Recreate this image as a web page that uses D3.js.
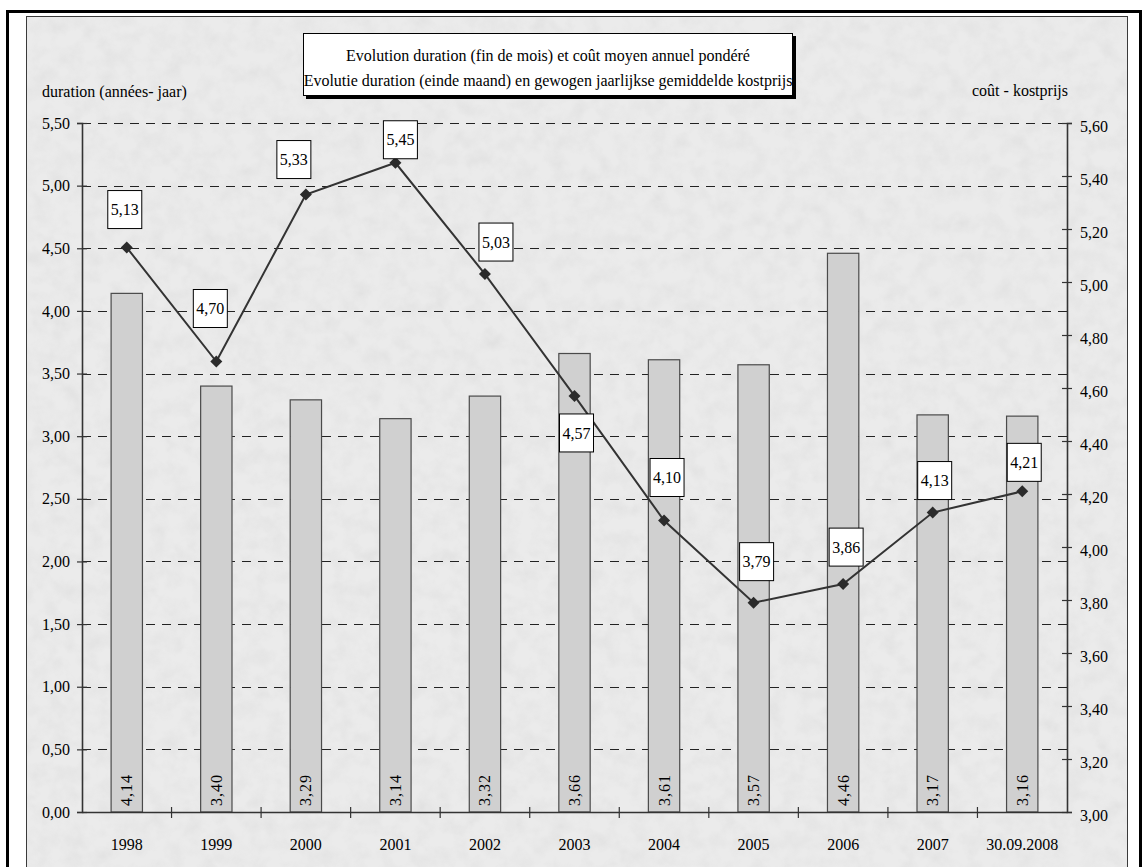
<!DOCTYPE html>
<html>
<head>
<meta charset="utf-8">
<script src="https://cdn.jsdelivr.net/npm/d3@7"></script>
<style>
  html, body { margin: 0; padding: 0; background: #ffffff; }
  svg { display: block; }
  text { font-family: "Liberation Serif", "Times New Roman", serif; fill: #000; }
</style>
</head>
<body>
<svg id="chart" width="1144" height="867"></svg>
<script>
// ---- data ----
const categories = ["1998","1999","2000","2001","2002","2003","2004","2005","2006","2007","30.09.2008"];
const durationValues = [4.14, 3.40, 3.29, 3.14, 3.32, 3.66, 3.61, 3.57, 4.46, 3.17, 3.16];
const costValues = [5.13, 4.70, 5.33, 5.45, 5.03, 4.57, 4.10, 3.79, 3.86, 4.13, 4.21];
const leftTicks = [0, 0.5, 1, 1.5, 2, 2.5, 3, 3.5, 4, 4.5, 5, 5.5];
const rightTicks = [3.0, 3.2, 3.4, 3.6, 3.8, 4.0, 4.2, 4.4, 4.6, 4.8, 5.0, 5.2, 5.4, 5.6];
const titleLines = ["Evolution duration (fin de mois) et coût moyen annuel pondéré",
                    "Evolutie duration (einde maand) en gewogen jaarlijkse gemiddelde kostprijs"];
const leftAxisTitle = "duration (années- jaar)";
const rightAxisTitle = "coût - kostprijs";
// label box placement relative to each point (layout only)
const labelOffsets = [[-2,-38],[-6,-53],[-12,-35],[5,-23],[11,-32],[2,37],[3,-43],[3,-41],[3,-37],[2,-32],[2,-29]];

// ---- layout ----
const svg = d3.select("#chart");
const plot = {left: 82, right: 1067, top: 123, bottom: 812};
const fmt = v => d3.format(".2f")(v).replace(".", ",");

// borders & background
const defs = svg.append("defs");
const filt = defs.append("filter").attr("id","paper").attr("x",0).attr("y",0).attr("width","100%").attr("height","100%");
filt.append("feTurbulence").attr("type","fractalNoise").attr("baseFrequency",0.06).attr("numOctaves",3).attr("seed",4).attr("result","n");
filt.append("feColorMatrix").attr("in","n").attr("type","matrix")
  .attr("values","0 0 0 0 0.5  0 0 0 0 0.5  0 0 0 0 0.5  0.35 0.35 0.35 0 -0.45").attr("result","g");
filt.append("feComposite").attr("in","g").attr("in2","SourceGraphic").attr("operator","in");

svg.append("rect").attr("x",7.5).attr("y",11.5).attr("width",1133).attr("height",900)
  .attr("fill","#ffffff").attr("stroke","#000").attr("stroke-width",3);
svg.append("rect").attr("x",26.5).attr("y",16.5).attr("width",1101).attr("height",900)
  .attr("fill","#ebebeb").attr("stroke","#3a3a3a").attr("stroke-width",1);
svg.append("rect").attr("x",27).attr("y",17).attr("width",1100).attr("height",850)
  .attr("fill","#cfcfcf").attr("filter","url(#paper)").attr("opacity",0.5);

// scales
const x = d3.scaleBand().domain(categories).range([plot.left, plot.right]).paddingInner(0).paddingOuter(0);
const yL = d3.scaleLinear().domain([0, 5.5]).range([plot.bottom, plot.top]);
const yR = d3.scaleLinear().domain([3.0, 5.6]).range([plot.bottom, plot.top]);

// gridlines
svg.append("g").selectAll("line").data(leftTicks.filter(t => t > 0)).join("line")
  .attr("x1", plot.left).attr("x2", plot.right)
  .attr("y1", d => Math.round(yL(d)) + 0.5).attr("y2", d => Math.round(yL(d)) + 0.5)
  .attr("stroke", "#222").attr("stroke-width", 1).attr("stroke-dasharray", "9,7");

// bars
const barW = x.bandwidth() * 0.35;
svg.append("g").selectAll("rect").data(durationValues).join("rect")
  .attr("x", (d,i) => x(categories[i]) + x.bandwidth()/2 - barW/2)
  .attr("y", d => yL(d))
  .attr("width", barW)
  .attr("height", d => yL(0) - yL(d))
  .attr("fill", "#d0d0d0").attr("stroke", "#4a4a4a").attr("stroke-width", 1.2);

// bar labels (rotated)
svg.append("g").selectAll("text").data(durationValues).join("text")
  .attr("transform", (d,i) => `translate(${x(categories[i]) + x.bandwidth()/2 + 5.5},790) rotate(-90)`)
  .attr("text-anchor", "middle")
  .attr("font-size", 16)
  .attr("letter-spacing", 1)
  .text(d => fmt(d));

// left axis
const gL = svg.append("g").attr("transform", `translate(${plot.left},0)`)
  .call(d3.axisLeft(yL).tickValues(leftTicks).tickFormat(fmt).tickSize(5).tickPadding(7));
gL.select(".domain").attr("stroke","#333").attr("stroke-width",1.6);
gL.selectAll(".tick line").attr("x1",5).attr("stroke","#333").attr("stroke-width",1.2);
gL.selectAll(".tick text").attr("font-size",16).attr("font-family","Liberation Serif").attr("fill","#000");

// right axis
const gR = svg.append("g").attr("transform", `translate(${plot.right},0)`)
  .call(d3.axisRight(yR).tickValues(rightTicks).tickFormat(fmt).tickSize(5).tickPadding(8));
gR.select(".domain").attr("stroke","#333").attr("stroke-width",1.6);
gR.selectAll(".tick line").attr("x1",-5).attr("stroke","#333").attr("stroke-width",1.2);
gR.selectAll(".tick text").attr("font-size",16).attr("font-family","Liberation Serif").attr("fill","#000").attr("dy","0.5em");

// bottom axis
const gB = svg.append("g").attr("transform", `translate(0,${plot.bottom})`)
  .call(d3.axisBottom(x).tickSize(0).tickPadding(27));
gB.select(".domain").attr("stroke","#333").attr("stroke-width",1.6);
gB.selectAll(".tick text").attr("font-size",16).attr("font-family","Liberation Serif").attr("fill","#000");
svg.append("g").selectAll("line").data(categories.slice(1)).join("line")
  .attr("x1", d => x(d)).attr("x2", d => x(d))
  .attr("y1", plot.bottom - 5).attr("y2", plot.bottom + 6)
  .attr("stroke", "#333").attr("stroke-width", 1.2);

// line
const line = d3.line().x((d,i) => x(categories[i]) + x.bandwidth()/2).y(d => yR(d));
svg.append("path").datum(costValues).attr("d", line)
  .attr("fill","none").attr("stroke","#333").attr("stroke-width",2);
const sym = d3.symbol().type(d3.symbolSquare).size(72);
svg.append("g").selectAll("path").data(costValues).join("path")
  .attr("d", sym)
  .attr("transform", (d,i) => `translate(${x(categories[i]) + x.bandwidth()/2},${yR(d)}) rotate(45)`)
  .attr("fill","#2b2b2b");

// line labels
const lbl = svg.append("g").selectAll("g").data(costValues).join("g")
  .attr("transform", (d,i) => `translate(${x(categories[i]) + x.bandwidth()/2 + labelOffsets[i][0]},${yR(d) + labelOffsets[i][1]})`);
lbl.append("rect").attr("x",-17).attr("y",-19).attr("width",34).attr("height",38)
  .attr("fill","#fff").attr("stroke","#000").attr("stroke-width",1);
lbl.append("text").attr("text-anchor","middle").attr("dy","0.35em").attr("font-size",16).text(d => fmt(d));

// axis titles
svg.append("text").attr("x",42).attr("y",91).attr("dy","0.35em").attr("font-size",16).text(leftAxisTitle);
svg.append("text").attr("x",1068).attr("y",90).attr("dy","0.35em").attr("text-anchor","end").attr("font-size",16).text(rightAxisTitle);

// title box
svg.append("rect").attr("x",306).attr("y",36).attr("width",490).attr("height",63).attr("fill","#000");
svg.append("rect").attr("x",303.5).attr("y",33.5).attr("width",489).attr("height",62)
  .attr("fill","#fff").attr("stroke","#000").attr("stroke-width",1);
svg.append("g").selectAll("text").data(titleLines).join("text")
  .attr("x",548).attr("y",(d,i) => 55 + i*25).attr("dy","0.35em")
  .attr("text-anchor","middle").attr("font-size",16).text(d => d);
</script>
</body>
</html>
